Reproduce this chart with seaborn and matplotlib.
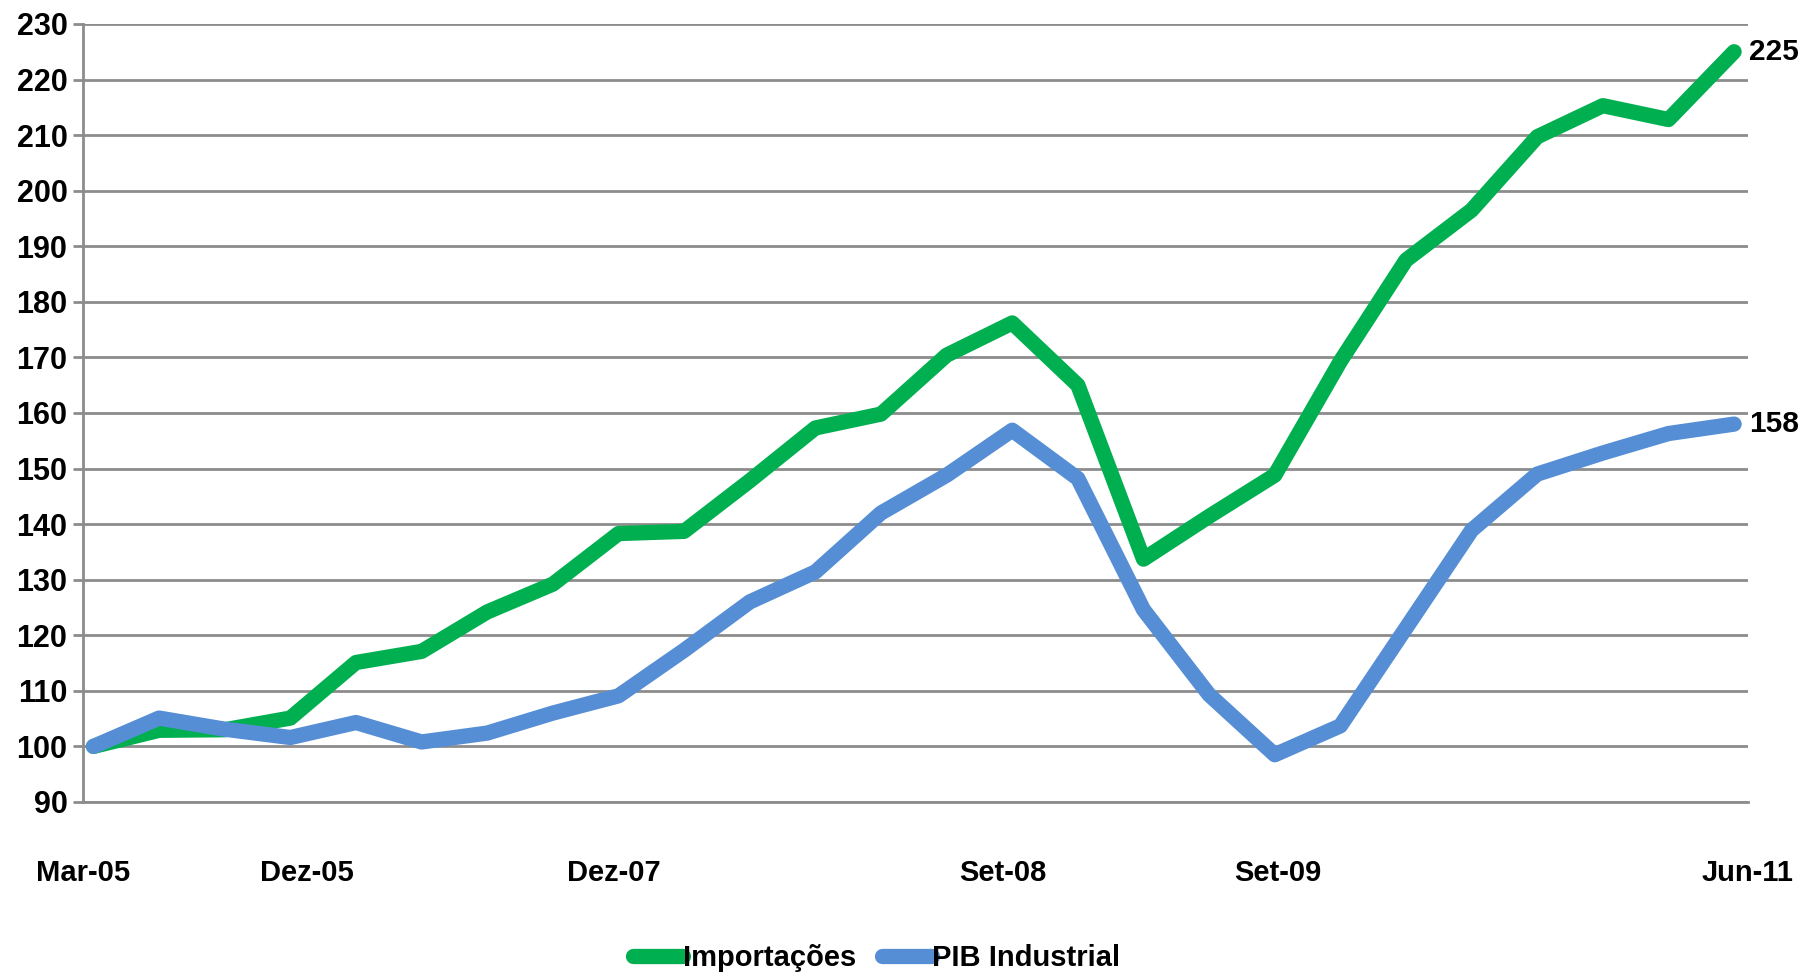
import matplotlib
matplotlib.use("Agg")
import matplotlib.pyplot as plt
import seaborn as sns
import pandas as pd

# Quarterly index (Mar-05 = 100)
quarters = [
    "Mar-05", "Jun-05", "Set-05", "Dez-05",
    "Mar-06", "Jun-06", "Set-06", "Dez-06",
    "Mar-07", "Jun-07", "Set-07", "Dez-07",
    "Mar-08", "Jun-08", "Set-08", "Dez-08",
    "Mar-09", "Jun-09", "Set-09", "Dez-09",
    "Mar-10", "Jun-10", "Set-10", "Dez-10",
    "Mar-11", "Jun-11",
]
importacoes = [
    100.0, 102.9, 103.0, 105.1, 115.1, 117.1, 124.2, 129.2, 138.3, 138.7,
    147.8, 157.3, 159.8, 170.4, 176.2, 165.0, 133.7, 141.4, 148.8, 169.3,
    187.5, 196.5, 209.7, 215.3, 212.8, 225.0,
]
pib_industrial = [
    100.0, 105.1, 103.1, 101.6, 104.3, 100.8, 102.4, 106.0, 109.1, 117.3,
    126.0, 131.4, 142.0, 148.8, 156.9, 148.2, 124.6, 109.3, 98.5, 103.7,
    121.3, 138.9, 149.0, 152.8, 156.3, 158.0,
]
series_names = ["Importações", "PIB Industrial"]
series_colors = ["#00B050", "#558ED5"]

tick_labels = ["Mar-05", "Dez-05", "Dez-07", "Set-08", "Set-09", "Jun-11"]
tick_positions = [-0.16, 3.25, 7.93, 13.86, 18.04, 25.21]

df = pd.DataFrame({
    "idx": list(range(len(quarters))) * 2,
    "quarter": quarters * 2,
    "value": importacoes + pib_industrial,
    "serie": [series_names[0]] * len(quarters) + [series_names[1]] * len(quarters),
})

sns.set_theme(style="white")
plt.rcParams["font.family"] = ["Liberation Sans", "DejaVu Sans"]
plt.rcParams["font.weight"] = "bold"
plt.rcParams["text.color"] = "black"

grid_color = "#8C8C8C"

fig = plt.figure(figsize=(18.04, 9.74), dpi=100)
ax = fig.add_axes([0.0460, 0.1766, 0.9229, 0.7988])

sns.lineplot(
    data=df, x="idx", y="value", hue="serie",
    hue_order=series_names, palette=series_colors,
    linewidth=11.0, ax=ax, legend=False, sort=False,
)
for line in ax.lines:
    line.set_solid_capstyle("round")
    line.set_solid_joinstyle("round")
    line.set_zorder(3)

ax.set_xlim(-0.158, 25.19)
ax.set_ylim(90, 230)
ax.set_yticks(range(90, 231, 10))
ax.set_xticks(tick_positions)
ax.set_xticklabels(tick_labels)
ax.set_xlabel("")
ax.set_ylabel("")

ax.grid(axis="y", color=grid_color, linewidth=2.0)
ax.grid(axis="x", visible=False)
ax.set_axisbelow(True)

for side in ["top", "right"]:
    ax.spines[side].set_visible(False)
for side in ["left", "bottom"]:
    ax.spines[side].set_color(grid_color)
    ax.spines[side].set_linewidth(2.0)

ax.tick_params(axis="y", length=7.2, width=2.0, color=grid_color, pad=4,
               labelsize=22, labelcolor="black", left=True)
ax.tick_params(axis="x", length=0, pad=41, labelsize=21, labelcolor="black")
for lab in ax.get_xticklabels() + ax.get_yticklabels():
    lab.set_fontweight("bold")

# End-point value labels
last = len(quarters) - 1
for vals in (importacoes, pib_industrial):
    ax.annotate(f"{vals[last]:.0f}", xy=(last, vals[last]), xytext=(11, 0),
                textcoords="offset points", ha="left", va="center",
                fontsize=21.5, fontweight="bold", color="black",
                annotation_clip=False)

handles = ax.lines[:2]
leg = fig.legend(
    handles, series_names, loc="center", bbox_to_anchor=(0.486, 0.0164),
    ncol=2, frameon=False, handlelength=1.7, handletextpad=0.0,
    columnspacing=0.9, prop={"size": 21, "weight": "bold"},
)
for txt in leg.get_texts():
    txt.set_color("black")

fig.savefig("out.png", dpi=100)
